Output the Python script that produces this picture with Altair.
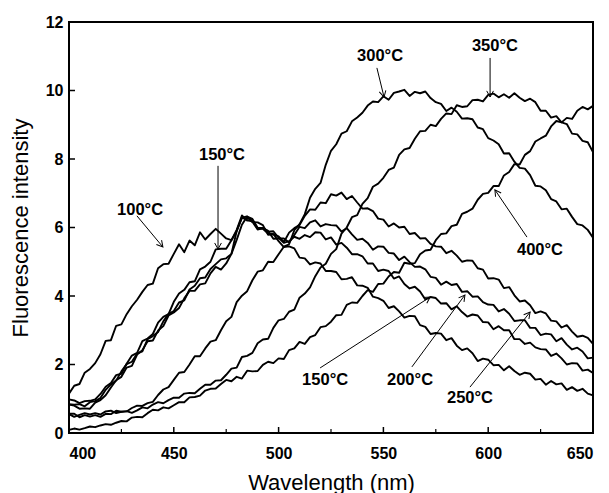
import math
import altair as alt
import pandas as pd

# ---------------- data ----------------
temps = ["100°C", "150°C", "200°C", "250°C", "300°C", "350°C", "400°C"]
wl_start, wl_step = 400.0, 2.5   # spectra sampled every 2.5 nm from 400 to 650 nm

c100 = [1.15, 1.38, 1.43, 1.76, 1.87, 2.04, 2.30, 2.69, 2.71, 3.13,
        3.17, 3.47, 3.70, 3.89, 4.12, 4.32, 4.36, 4.81, 4.93, 4.94,
        5.23, 5.51, 5.28, 5.62, 5.48, 5.86, 5.65, 5.81, 5.96, 5.82,
        5.68, 5.63, 5.93, 6.35, 6.20, 6.22, 5.96, 5.96, 5.82, 5.81,
        5.60, 5.43, 5.45, 5.39, 5.12, 5.10, 4.92, 4.98, 4.95, 4.73,
        4.73, 4.70, 4.49, 4.50, 4.55, 4.31, 4.30, 4.24, 3.98, 3.94,
        3.86, 3.65, 3.70, 3.55, 3.37, 3.42, 3.41, 3.15, 3.10, 2.89,
        2.92, 2.90, 2.71, 2.77, 2.55, 2.42, 2.47, 2.33, 2.10, 2.17,
        2.14, 1.98, 1.99, 1.83, 1.95, 1.81, 1.70, 1.76, 1.73, 1.56,
        1.58, 1.41, 1.52, 1.42, 1.45, 1.26, 1.34, 1.23, 1.29, 1.15,
        1.10]

c150 = [0.98, 0.95, 0.87, 0.93, 0.94, 0.98, 1.14, 1.35, 1.46, 1.69,
        1.73, 2.02, 2.26, 2.34, 2.68, 2.76, 2.89, 3.22, 3.39, 3.47,
        3.83, 4.07, 4.18, 4.40, 4.43, 4.78, 4.86, 5.00, 5.36, 5.38,
        5.38, 5.63, 5.89, 6.29, 6.32, 6.25, 5.99, 5.99, 5.88, 5.89,
        5.70, 5.55, 5.60, 5.73, 5.67, 5.78, 5.72, 5.86, 5.85, 5.65,
        5.71, 5.50, 5.55, 5.41, 5.22, 5.22, 5.16, 4.95, 4.95, 4.73,
        4.77, 4.73, 4.51, 4.57, 4.35, 4.22, 4.27, 4.13, 3.90, 3.97,
        3.94, 3.78, 3.79, 3.61, 3.70, 3.53, 3.40, 3.46, 3.43, 3.24,
        3.23, 3.03, 3.12, 3.00, 3.00, 2.74, 2.74, 2.60, 2.64, 2.50,
        2.45, 2.44, 2.25, 2.32, 2.18, 2.00, 2.04, 2.03, 1.82, 1.85,
        1.75]

c200 = [0.84, 0.83, 0.84, 0.78, 0.90, 0.93, 1.02, 1.26, 1.42, 1.53,
        1.80, 2.01, 2.08, 2.32, 2.38, 2.74, 2.83, 2.95, 3.26, 3.48,
        3.56, 3.81, 3.87, 4.19, 4.30, 4.52, 4.54, 4.79, 4.93, 5.07,
        5.10, 5.23, 5.90, 6.29, 6.22, 6.17, 5.94, 5.98, 5.90, 5.67,
        5.68, 5.68, 5.56, 5.78, 6.02, 5.98, 6.15, 6.21, 6.03, 6.10,
        6.07, 6.06, 5.88, 5.98, 5.80, 5.64, 5.67, 5.55, 5.35, 5.45,
        5.44, 5.26, 5.24, 5.05, 5.15, 4.99, 4.85, 4.86, 4.78, 4.56,
        4.53, 4.33, 4.42, 4.32, 4.35, 4.12, 4.14, 3.98, 3.99, 3.82,
        3.75, 3.74, 3.55, 3.62, 3.48, 3.27, 3.29, 3.29, 3.07, 3.07,
        2.86, 2.90, 2.88, 2.68, 2.77, 2.58, 2.44, 2.49, 2.38, 2.18,
        2.20]

c250 = [0.83, 0.80, 0.71, 0.72, 0.71, 0.89, 0.96, 1.10, 1.33, 1.54,
        1.64, 1.91, 1.96, 2.29, 2.42, 2.68, 2.70, 2.99, 3.12, 3.43,
        3.52, 3.65, 3.93, 4.15, 4.15, 4.34, 4.37, 4.66, 4.85, 4.77,
        4.95, 5.23, 5.64, 6.08, 6.32, 6.16, 6.15, 6.07, 5.79, 5.80,
        5.74, 5.57, 5.85, 5.98, 6.07, 6.34, 6.53, 6.52, 6.73, 6.71,
        6.97, 6.93, 7.02, 6.83, 6.92, 6.73, 6.55, 6.56, 6.48, 6.26,
        6.23, 6.03, 6.12, 6.00, 6.02, 5.81, 5.84, 5.68, 5.69, 5.52,
        5.45, 5.44, 5.25, 5.32, 5.18, 5.00, 5.04, 5.03, 4.81, 4.77,
        4.51, 4.52, 4.48, 4.23, 4.26, 4.02, 3.84, 3.87, 3.73, 3.50,
        3.55, 3.49, 3.28, 3.26, 3.08, 3.15, 2.96, 2.81, 2.84, 2.78,
        2.60]

c300 = [0.56, 0.56, 0.46, 0.52, 0.48, 0.52, 0.47, 0.56, 0.55, 0.65,
        0.62, 0.63, 0.73, 0.80, 0.79, 0.87, 0.91, 1.11, 1.27, 1.34,
        1.55, 1.76, 1.78, 2.00, 2.24, 2.24, 2.47, 2.67, 2.71, 3.00,
        3.26, 3.39, 3.82, 4.01, 4.14, 4.46, 4.71, 4.75, 5.00, 4.99,
        5.22, 5.44, 5.51, 5.92, 6.10, 6.39, 6.87, 7.13, 7.30, 7.83,
        8.24, 8.43, 8.74, 8.81, 9.10, 9.21, 9.35, 9.56, 9.68, 9.66,
        9.83, 9.73, 9.93, 9.97, 10.02, 9.84, 9.96, 9.92, 9.97, 9.78,
        9.66, 9.61, 9.40, 9.50, 9.38, 9.18, 9.19, 9.16, 8.92, 8.87,
        8.61, 8.54, 8.43, 8.16, 8.17, 7.92, 7.74, 7.72, 7.53, 7.22,
        7.20, 7.09, 6.83, 6.76, 6.53, 6.55, 6.31, 6.10, 6.06, 5.93,
        5.70]

c350 = [0.55, 0.47, 0.53, 0.58, 0.54, 0.58, 0.54, 0.63, 0.65, 0.58,
        0.62, 0.64, 0.59, 0.66, 0.75, 0.72, 0.83, 0.90, 0.87, 0.96,
        1.03, 1.03, 1.15, 1.17, 1.16, 1.29, 1.41, 1.41, 1.53, 1.54,
        1.70, 1.88, 1.91, 2.22, 2.25, 2.34, 2.62, 2.73, 2.75, 3.07,
        3.29, 3.33, 3.54, 3.60, 3.95, 4.07, 4.25, 4.58, 4.83, 4.94,
        5.23, 5.37, 5.82, 6.00, 6.30, 6.36, 6.69, 6.86, 7.19, 7.28,
        7.45, 7.68, 7.75, 8.12, 8.28, 8.32, 8.59, 8.81, 8.82, 9.00,
        8.96, 9.17, 9.33, 9.31, 9.57, 9.52, 9.54, 9.72, 9.73, 9.68,
        9.87, 9.91, 9.80, 9.89, 9.79, 9.92, 9.79, 9.69, 9.76, 9.66,
        9.41, 9.41, 9.21, 9.25, 9.07, 9.02, 8.74, 8.72, 8.53, 8.49,
        8.20]

c400 = [0.09, 0.13, 0.10, 0.14, 0.19, 0.17, 0.22, 0.26, 0.24, 0.30,
        0.35, 0.34, 0.45, 0.47, 0.46, 0.58, 0.68, 0.66, 0.75, 0.72,
        0.81, 0.90, 0.90, 1.04, 1.05, 1.09, 1.24, 1.29, 1.30, 1.43,
        1.55, 1.51, 1.64, 1.59, 1.82, 1.80, 1.81, 1.99, 2.08, 2.04,
        2.18, 2.16, 2.42, 2.47, 2.66, 2.60, 2.80, 2.86, 3.09, 3.12,
        3.25, 3.44, 3.45, 3.74, 3.81, 3.80, 4.00, 4.17, 4.12, 4.35,
        4.36, 4.57, 4.70, 4.68, 4.97, 4.94, 4.96, 5.22, 5.33, 5.35,
        5.63, 5.81, 5.83, 6.04, 6.08, 6.40, 6.46, 6.55, 6.81, 6.98,
        7.01, 7.21, 7.21, 7.52, 7.62, 7.85, 7.84, 8.12, 8.23, 8.51,
        8.60, 8.68, 8.95, 9.11, 9.07, 9.20, 9.17, 9.41, 9.52, 9.45,
        9.55]

series = [c100, c150, c200, c250, c300, c350, c400]

x_tick_labels = [400, 450, 500, 550, 600, 650]
x_minor = [425, 475, 525, 575, 625]
y_tick_labels = [0, 2, 4, 6, 8, 10, 12]

# annotation labels and arrows (data coordinates)
label_text = ["100°C", "150°C", "300°C", "350°C", "400°C", "150°C", "200°C", "250°C"]
label_x = [433.9, 473.0, 548.4, 603.2, 624.7, 522.2, 562.7, 591.3]
label_y = [6.51, 8.12, 11.01, 11.30, 5.34, 1.55, 1.55, 1.02]
arrow_x0 = [432.4, 471.1, 546.9, 600.9, 618.5, 519.8, 563.6, 591.3]
arrow_y0 = [6.34, 7.80, 10.66, 10.95, 5.72, 1.90, 1.93, 1.34]
arrow_x1 = [444.8, 471.1, 550.3, 600.9, 603.2, 572.3, 588.9, 620.0]
arrow_y1 = [5.43, 5.37, 9.81, 9.81, 7.10, 3.97, 4.03, 3.53]

# ---------------- layout ----------------
W, H = 524, 411
XDOM, YDOM = [400, 650], [0, 12]
FONT = "Liberation Sans"
XTITLE = "Wavelength (nm)"
YTITLE = "Fluorescence intensity"

rows = []
for t, vals in zip(temps, series):
    for i, v in enumerate(vals):
        rows.append({"wl": wl_start + wl_step * i, "val": v, "temp": t})
df = pd.DataFrame(rows)

kx = W / (XDOM[1] - XDOM[0])
ky = H / (YDOM[1] - YDOM[0])
ann = pd.DataFrame({
    "text": label_text, "lx": label_x, "ly": label_y,
    "x0": arrow_x0, "y0": arrow_y0, "x1": arrow_x1, "y1": arrow_y1,
})
ann["angle"] = [
    (math.degrees(math.atan2((b - a) * kx, (d - c) * ky)) + 360) % 360
    for a, b, c, d in zip(ann.x0, ann.x1, ann.y0, ann.y1)
]

xs = alt.Scale(domain=XDOM, nice=False, zero=False)
ys = alt.Scale(domain=YDOM, nice=False, zero=False)

x_axis = alt.Axis(values=x_tick_labels, grid=False, domain=False, ticks=False, tickSize=0,
                  labelFont=FONT, labelFontSize=16, labelFontWeight="bold", labelColor="black",
                  labelPadding=12, titleFont=FONT, titleFontSize=22, titleFontWeight="normal",
                  titleColor="black", titlePadding=11)
y_axis = alt.Axis(values=y_tick_labels, grid=False, domain=False, ticks=False, tickSize=0,
                  labelFont=FONT, labelFontSize=16, labelFontWeight="bold", labelColor="black",
                  labelPadding=6, titleFont=FONT, titleFontSize=22, titleFontWeight="normal",
                  titleColor="black", titlePadding=13)


def X(field):
    return alt.X(field, scale=xs, axis=x_axis, title=XTITLE)


def Y(field):
    return alt.Y(field, scale=ys, axis=y_axis, title=YTITLE)


lines = alt.Chart(df).mark_line(color="black", strokeWidth=1.9, strokeJoin="round").encode(
    x=X("wl:Q"), y=Y("val:Q"), detail="temp:N")

xt_major = alt.Chart(pd.DataFrame({"t": x_tick_labels})).mark_rule(color="black", strokeWidth=1.5).encode(
    x=X("t:Q"), y=alt.value(H), y2=alt.value(H - 6))
xt_minor = alt.Chart(pd.DataFrame({"t": x_minor})).mark_rule(color="black", strokeWidth=1.2).encode(
    x=X("t:Q"), y=alt.value(H), y2=alt.value(H - 4))
yt = alt.Chart(pd.DataFrame({"t": y_tick_labels})).mark_rule(color="black", strokeWidth=1.5).encode(
    y=Y("t:Q"), x=alt.value(0), x2=alt.value(6))

shafts = alt.Chart(ann).mark_rule(color="black", strokeWidth=1).encode(
    x=X("x0:Q"), y=Y("y0:Q"), x2="x1:Q", y2="y1:Q")

heads = alt.Chart(ann).mark_point(
    shape="M -0.55 1 L 0 0 L 0.55 1", filled=False, color="black", strokeWidth=1, size=150, opacity=1
).encode(
    x=X("x1:Q"), y=Y("y1:Q"), angle=alt.Angle("angle:Q", scale=None))

labels = alt.Chart(ann).mark_text(font=FONT, fontSize=16.5, fontWeight="bold", color="black").encode(
    x=X("lx:Q"), y=Y("ly:Q"), text="text:N")

chart = alt.layer(lines, xt_major, xt_minor, yt, shafts, heads, labels).properties(
    width=W, height=H,
    padding={"left": 61, "top": 14, "right": 8, "bottom": 62},
    autosize=alt.AutoSizeParams(type="none"),
    background="white",
).configure_view(stroke="black", strokeWidth=2)

chart.save("out.html", embed_options={"renderer": "svg", "actions": False})
